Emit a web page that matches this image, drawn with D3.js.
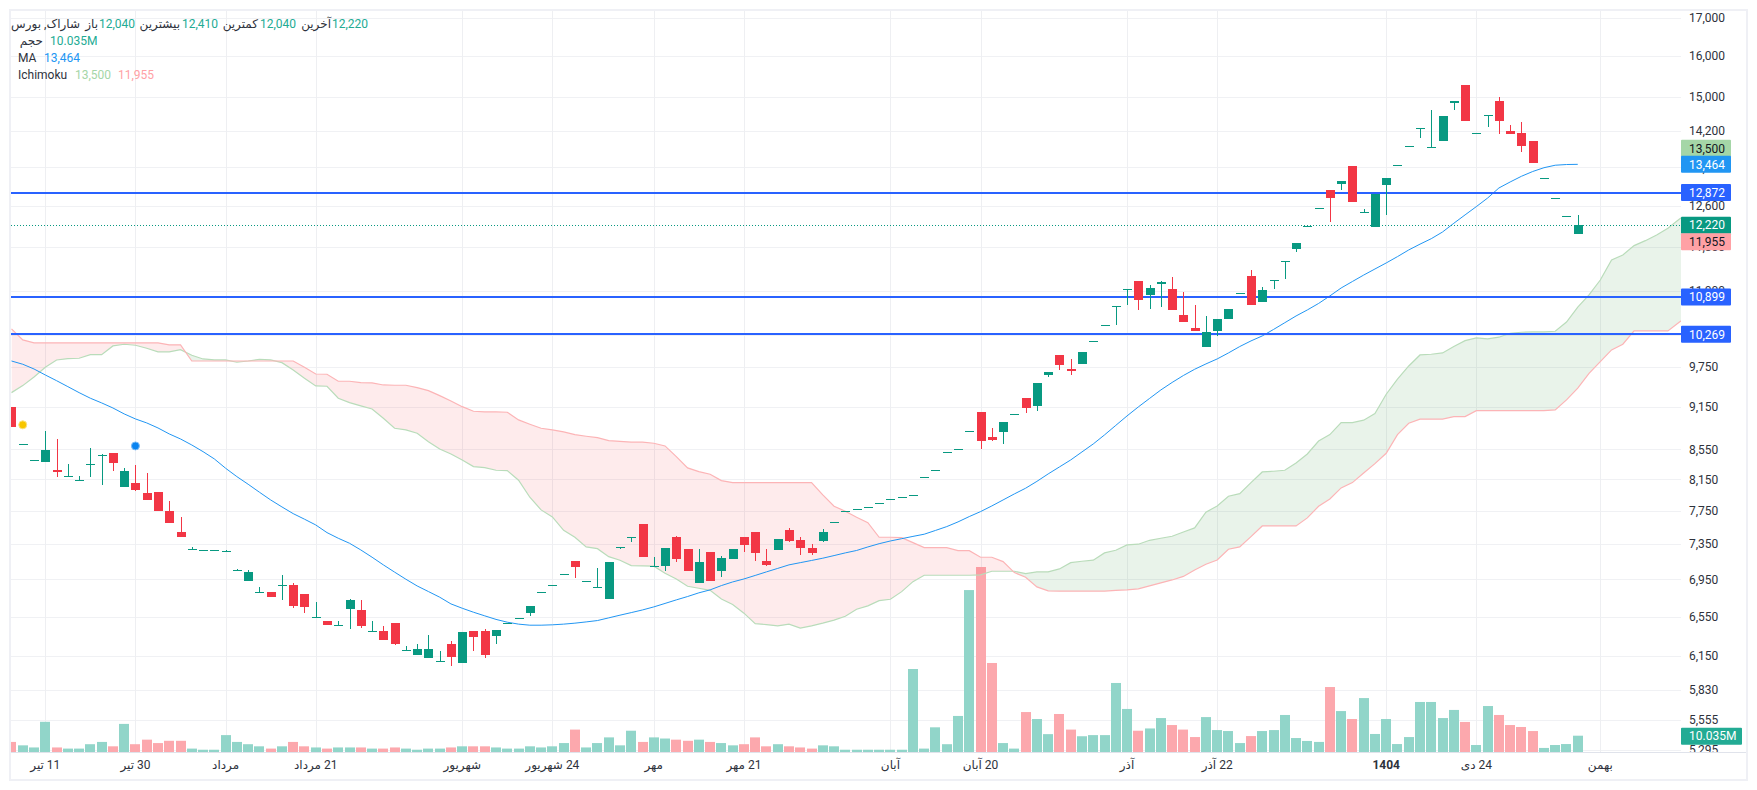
<!DOCTYPE html>
<html>
<head>
<meta charset="utf-8">
<script src="https://cdn.jsdelivr.net/npm/d3@7"></script>
<style>
  html, body { margin: 0; padding: 0; background: #fff; }
  svg { display: block; }
  text { font-family: Roboto, "DejaVu Sans", sans-serif; font-size: 12px; }
</style>
</head>
<body>
<svg id="chart" width="1757" height="790"></svg>
<script>
const opens = [
  9150,8620,8400,8380,8270,8200,8140,8350,8470,8500,
  8050,8100,7980,7990,7750,7500,7290,7280,7280,7270,
  7050,6930,6810,6810,6890,6890,6790,6540,6500,6460,
  6630,6620,6400,6400,6480,6210,6160,6130,6100,6270,
  6080,6400,6400,6350,6480,6530,6590,6810,6890,7010,
  7160,6930,6870,6740,7320,7430,7590,7100,7100,7440,
  7290,6910,7260,7040,7180,7440,7500,7160,7280,7520,
  7400,7310,7390,7620,7750,7770,7800,7850,7900,7920,
  7950,8180,8270,8510,8560,8810,9070,8720,8790,9040,
  9280,9160,9620,9940,9720,9800,10160,10420,10740,11030,
  11180,10930,11130,11040,10590,10370,10070,10320,10520,10970,
  11270,10810,11200,11540,11770,12200,12550,12920,13050,13430,
  12470,12190,13030,13440,13860,14260,13840,13970,14850,15280,
  14150,14560,14890,14200,14150,13970,13170,12770,12400,12040,
];
const highs = [
  9150,8620,8400,8800,8690,8350,8190,8570,8480,8500,
  8300,8340,8230,7990,7870,7680,7320,7280,7280,7280,
  7060,7050,6870,6810,7000,6910,6790,6700,6500,6500,
  6740,6730,6500,6450,6480,6250,6270,6360,6200,6300,
  6390,6400,6420,6410,6480,6530,6660,6810,6890,7010,
  7160,6930,7080,7150,7320,7430,7590,7200,7310,7450,
  7290,7290,7260,7210,7290,7440,7500,7290,7410,7540,
  7440,7350,7530,7620,7750,7770,7800,7850,7900,7920,
  7950,8180,8270,8510,8560,8810,9070,8850,8930,9040,
  9280,9500,9670,9940,9870,9990,10160,10420,10740,11030,
  11180,11110,11180,11250,10990,10760,10570,10520,10690,10970,
  11380,11070,11200,11540,11880,12220,12550,12920,13110,13430,
  12540,12840,13170,13440,13860,14260,14680,14540,14890,15280,
  14150,14560,14990,14340,14400,13970,13170,12770,12400,12410,
];
const lows = [
  8860,8620,8400,8380,8180,8200,8140,8180,8080,8260,
  8050,8000,7890,7750,7600,7440,7290,7280,7280,7270,
  7050,6930,6810,6760,6730,6640,6590,6540,6460,6460,
  6420,6430,6400,6310,6260,6210,6160,6130,6100,6050,
  6080,6200,6130,6270,6480,6530,6560,6810,6890,7010,
  6970,6930,6870,6740,7290,7370,7200,7100,7040,7150,
  7040,6910,6930,6980,7180,7260,7160,7100,7280,7380,
  7230,7230,7370,7620,7750,7770,7800,7850,7900,7920,
  7950,8180,8270,8510,8560,8810,8560,8660,8620,9040,
  9060,9090,9590,9700,9620,9800,10160,10420,10420,10760,
  10680,10690,10730,10680,10470,10320,10070,10240,10520,10970,
  10760,10810,11040,11220,11710,12200,12550,12280,12920,12680,
  12470,12190,12420,13440,13860,14040,13840,13970,14680,14430,
  14150,14290,14130,14130,13730,13490,13170,12770,12400,12040,
];
const closes = [
  8860,8620,8400,8540,8250,8200,8140,8350,8470,8370,
  8260,8010,7890,7750,7600,7440,7290,7280,7280,7270,
  7050,7030,6810,6760,6890,6660,6650,6540,6460,6460,
  6730,6450,6400,6310,6270,6210,6220,6220,6100,6140,
  6390,6340,6160,6410,6480,6530,6660,6810,6890,7010,
  7090,6930,6870,7150,7320,7430,7200,7100,7310,7180,
  7040,7150,6930,7190,7290,7340,7250,7110,7410,7390,
  7310,7250,7500,7620,7750,7770,7800,7850,7900,7920,
  7950,8180,8270,8510,8560,8810,8660,8680,8930,9040,
  9130,9500,9670,9780,9690,9990,10160,10420,10740,11030,
  10850,11060,11160,10680,10470,10320,10310,10520,10690,10970,
  10760,11020,11200,11540,11880,12200,12550,12760,13110,12680,
  12470,12840,13170,13440,13860,14260,13840,14540,14890,14430,
  14150,14560,14430,14130,13860,13490,13170,12770,12400,12220,
];
// millions
const volumes = [
  6.2,4.1,2.8,18.6,2.8,2.1,2.1,4.8,6.2,3.5,
  17.3,4.8,7.6,5.5,6.9,6.9,2.1,1.4,1.4,10.4,
  6.2,4.8,3.5,2.1,3.5,6.2,3.5,2.8,2.1,2.8,
  2.8,2.8,2.1,2.1,2.8,2.1,1.4,2.1,2.1,2.8,
  3.5,3.5,3.5,2.8,2.1,2.1,3.5,2.8,3.5,5.5,
  13.8,2.8,5.5,9,4.1,13.1,6.2,9,8.3,7.6,
  6.9,7.6,6.2,5.5,4.1,4.8,9,3.5,4.8,3.5,
  2.8,2.1,4.1,3.5,1.4,1.4,1.4,1.4,1.4,1.4,
  51.1,2.1,15.2,4.8,22.2,99.7,113.9,54.8,5.5,2.1,
  24.6,20.3,11,23.4,13.8,9.7,10.4,10.4,42.5,26.5,
  13.1,14.5,20.9,16.6,13.8,9.2,21.5,13.5,12.9,5.5,
  9.8,12.9,13.5,22.8,8.6,6.8,6.2,40,25.2,20.3,
  33.2,11.1,20.3,4.9,9.2,30.8,30.8,20.9,25.9,18.5,
  4.3,28.3,22.8,16.6,15.4,12.9,2.5,4.3,4.9,10.035,
];
const maValues = [
  9842,9791,9717,9625,9538,9448,9358,9275,9206,9132,
  9046,8974,8917,8846,8762,8692,8609,8518,8420,8296,
  8186,8087,7985,7887,7800,7717,7649,7579,7487,7420,
  7361,7283,7199,7112,7030,6951,6877,6816,6755,6683,
  6637,6595,6557,6520,6491,6471,6460,6460,6464,6471,
  6481,6494,6508,6536,6564,6591,6619,6651,6688,6726,
  6762,6802,6834,6881,6921,6954,6993,7033,7072,7112,
  7137,7162,7188,7218,7249,7277,7318,7356,7388,7415,
  7442,7468,7513,7559,7616,7681,7742,7812,7887,7963,
  8036,8124,8221,8313,8406,8514,8623,8748,8882,9017,
  9147,9272,9398,9511,9617,9713,9796,9874,9969,10071,
  10162,10243,10349,10461,10574,10676,10787,10917,11056,11171,
  11286,11396,11506,11623,11747,11856,11960,12088,12257,12422,
  12587,12760,12966,13091,13210,13311,13392,13445,13460,13464,
];
const spanA = [
  9358,9463,9595,9744,9858,9879,9885,9942,9942,10081,
  10108,10092,10044,9985,9985,10022,9933,9874,9858,9858,
  9822,9842,9869,9858,9816,9702,9575,9458,9454,9275,
  9210,9162,9118,8984,8842,8818,8772,8655,8555,8487,
  8406,8317,8304,8269,8264,8139,7921,7763,7677,7515,
  7432,7318,7298,7206,7165,7103,7100,7097,7018,6954,
  6874,6852,6829,6735,6676,6585,6476,6466,6453,6471,
  6430,6453,6481,6512,6553,6626,6662,6718,6733,6815,
  6924,6995,6995,6995,6995,6995,6999,7040,7040,7040,
  7013,7033,7033,7066,7137,7153,7165,7249,7280,7342,
  7350,7396,7420,7444,7495,7543,7735,7812,7934,7967,
  8108,8247,8256,8269,8366,8487,8664,8752,8921,8921,
  8956,9050,9334,9560,9764,9937,9948,9969,10073,10167,
  10211,10194,10222,10287,10303,10308,10308,10320,10473,10724,
  10934,11198,11561,11654,11829,11922,12031,12161,12335,12490,
];
const spanB = [
  10358,10178,10130,10130,10130,10130,10130,10130,10130,10130,
  10130,10130,10130,10130,10098,10098,9842,9842,9842,9842,
  9842,9842,9842,9842,9842,9842,9744,9640,9636,9529,
  9529,9508,9504,9473,9469,9469,9433,9388,9314,9235,
  9151,9084,9074,9074,9070,8960,8899,8842,8818,8790,
  8752,8730,8710,8668,8660,8647,8647,8633,8596,8450,
  8300,8251,8217,8134,8108,8108,8108,8108,8108,8108,
  8108,8108,7950,7808,7747,7673,7607,7432,7432,7427,
  7368,7310,7310,7310,7275,7275,7199,7199,7149,7025,
  6973,6867,6823,6820,6820,6820,6820,6820,6829,6834,
  6845,6877,6910,6943,6982,7055,7119,7168,7291,7318,
  7439,7567,7567,7567,7567,7665,7808,7900,8040,8108,
  8234,8357,8496,8752,8913,8970,8970,8970,9007,9007,
  9093,9093,9093,9093,9093,9093,9093,9103,9250,9424,
  9651,9831,10017,10108,10325,10325,10325,10325,10468,10600,
];
const priceTicks = [17000,16000,15000,14200,13400,12600,11800,11000,10250,9750,9150,8550,8150,7750,7350,6950,6550,6150,5830,5555,5295];
const timeIndex = [3,11,19,27,40,48,57,65,78,86,99,107,122,130,141];
const timeLabels = ["11 تیر","30 تیر","مرداد","21 مرداد","شهریور","24 شهریور","مهر","21 مهر","آبان","20 آبان","آذر","22 آذر","1404","24 دی","بهمن"];
const levels = [12872,10899,10269];
const lastPrice = 12220;
const dots = [
  { index: 1, price: 8890, color: "#f7c600", halo: "#fbe27f" },
  { index: 11, price: 8596, color: "#0a84f0", halo: "#7cbcf7" },
];

const GREEN = "#089981";
const RED = "#f23645";
const left = 11, right = 1681, bottom = 752, frameRight = 1747, frameBottom = 780;

const svg = d3.select("#chart");
const x = d3.scaleLinear().domain([3, 141]).range([45.3, 1600.3]);
const y = d3.scaleLog().domain([17000, 5295]).range([18, 750]);
const yVol = d3.scaleLinear().domain([0, 113.9]).range([bottom, 567]);
const fmt = d3.format(",");
const px = (i) => Math.round(x(i));
const crisp = (v) => Math.round(v) + 0.5;

svg.append("clipPath").attr("id", "plot")
  .append("rect").attr("x", left).attr("y", 11).attr("width", right - left).attr("height", bottom - 11);

// grid
const grid = svg.append("g").attr("stroke-width", 1);
grid.selectAll("line.h").data(priceTicks).join("line").attr("class", "h")
  .attr("x1", left).attr("x2", right)
  .attr("y1", (d) => crisp(y(d))).attr("y2", (d) => crisp(y(d)))
  .attr("stroke", "#f0f1f4");
grid.selectAll("line.v").data(timeIndex).join("line").attr("class", "v")
  .attr("x1", (d) => px(d) + 0.5).attr("x2", (d) => px(d) + 0.5)
  .attr("y1", 11).attr("y2", bottom)
  .attr("stroke", "#eeeff2");

const plot = svg.append("g").attr("clip-path", "url(#plot)");

// volume
const volBars = volumes.map((v, i) => ({ v, i, up: closes[i] >= opens[i] }));
plot.append("g").selectAll("rect").data(volBars).join("rect")
  .attr("x", (d) => px(d.i) - 5).attr("width", 10)
  .attr("y", (d) => yVol(d.v)).attr("height", (d) => bottom - yVol(d.v))
  .attr("fill", (d) => (d.up ? "#91d5c9" : "#fca8ad"));

// ichimoku cloud, one fill colour on each side of span A
const cloud = spanA.map((a, i) => ({ i, a, b: spanB[i] }));
const clipAbove = d3.area().x((d) => x(d.i)).y0(0).y1((d) => y(d.a));
const clipBelow = d3.area().x((d) => x(d.i)).y0(790).y1((d) => y(d.a));
svg.append("clipPath").attr("id", "aboveA").append("path").attr("d", clipAbove(cloud));
svg.append("clipPath").attr("id", "belowA").append("path").attr("d", clipBelow(cloud));
const cloudArea = d3.area().x((d) => x(d.i)).y0((d) => y(d.a)).y1((d) => y(d.b));
plot.append("g").attr("clip-path", "url(#aboveA)").append("path")
  .attr("d", cloudArea(cloud)).attr("fill", "#f23645").attr("fill-opacity", 0.1);
plot.append("g").attr("clip-path", "url(#belowA)").append("path")
  .attr("d", cloudArea(cloud)).attr("fill", "#4c9f50").attr("fill-opacity", 0.12);

const lineOf = (key) => d3.line().x((d) => x(d.i)).y((d) => y(d[key]));
plot.append("path").attr("d", lineOf("a")(cloud)).attr("fill", "none").attr("stroke", "#b9dcba").attr("stroke-width", 1.2);
plot.append("path").attr("d", lineOf("b")(cloud)).attr("fill", "none").attr("stroke", "#fcb4b6").attr("stroke-width", 1.2);

// moving average
const maLine = d3.line().x((d, i) => x(i)).y((d) => y(d));
plot.append("path").attr("d", maLine(maValues)).attr("fill", "none").attr("stroke", "#2196f3").attr("stroke-width", 1);

// horizontal levels
plot.append("line").attr("x1", left).attr("x2", right)
  .attr("y1", crisp(y(lastPrice))).attr("y2", crisp(y(lastPrice)))
  .attr("stroke", GREEN).attr("stroke-dasharray", "1 2");
plot.selectAll("line.level").data(levels).join("line").attr("class", "level")
  .attr("x1", left).attr("x2", right)
  .attr("y1", (d) => Math.round(y(d))).attr("y2", (d) => Math.round(y(d)))
  .attr("stroke", "#2962ff").attr("stroke-width", 2);

// candles
const candles = opens.map((o, i) => ({ i, o, h: highs[i], l: lows[i], c: closes[i] }));
const candle = plot.append("g").selectAll("g").data(candles).join("g")
  .attr("fill", (d) => (d.c >= d.o ? GREEN : RED))
  .attr("stroke", "none");
candle.append("rect")
  .attr("x", (d) => px(d.i)).attr("width", 1)
  .attr("y", (d) => Math.round(y(d.h))).attr("height", (d) => Math.round(y(d.l)) - Math.round(y(d.h)));
candle.append("rect")
  .attr("x", (d) => px(d.i) - 4).attr("width", 9)
  .attr("y", (d) => Math.round(y(Math.max(d.o, d.c))))
  .attr("height", (d) => Math.max(1, Math.round(y(Math.min(d.o, d.c))) - Math.round(y(Math.max(d.o, d.c)))));

plot.selectAll("circle").data(dots).join("circle")
  .attr("cx", (d) => x(d.index)).attr("cy", (d) => y(d.price)).attr("r", 4)
  .attr("fill", (d) => d.color).attr("stroke", (d) => d.halo).attr("stroke-width", 1);

// price axis
svg.append("g").selectAll("text").data(priceTicks).join("text")
  .attr("x", 1689).attr("y", (d) => y(d)).attr("dy", "0.35em")
  .attr("fill", "#2e323c")
  .text(fmt);

// cover for the axis tail below the time line
svg.append("rect").attr("x", left).attr("y", bottom).attr("width", frameRight - left).attr("height", frameBottom - bottom).attr("fill", "#fff");

// price labels; the two ichimoku ones are pushed clear of their neighbours
const priceLabels = [
  { text: "13,500", center: 148.3, fill: "#a5d6a7", color: "#131722" },
  { text: "13,464", center: y(13464), fill: "#2196f3", color: "#fff" },
  { text: "12,872", center: y(12872), fill: "#2962ff", color: "#fff" },
  { text: "12,220", center: y(12220), fill: "#089981", color: "#fff" },
  { text: "11,955", center: 241.7, fill: "#ffa1a5", color: "#131722" },
  { text: "10,899", center: y(10899), fill: "#2962ff", color: "#fff" },
  { text: "10,269", center: y(10269), fill: "#2962ff", color: "#fff" },
];
const labelGroup = svg.append("g").selectAll("g").data(priceLabels).join("g");
labelGroup.append("rect")
  .attr("x", right).attr("width", 50).attr("height", 17)
  .attr("y", (d) => d.center - 8.5).attr("rx", 1)
  .attr("fill", (d) => d.fill);
labelGroup.append("text")
  .attr("x", 1689).attr("y", (d) => d.center).attr("dy", "0.35em")
  .attr("fill", (d) => d.color)
  .text((d) => d.text);
svg.append("rect").attr("x", right).attr("y", yVol(10.035) - 8).attr("width", 61).attr("height", 17).attr("rx", 1).attr("fill", "#22ab94");
svg.append("text").attr("x", 1689).attr("y", yVol(10.035) + 0.5).attr("dy", "0.35em").attr("fill", "#fff").text("10.035M");

// time axis
svg.append("line").attr("x1", left).attr("x2", frameRight).attr("y1", bottom + 0.5).attr("y2", bottom + 0.5).attr("stroke", "#e0e3eb");
svg.append("g").selectAll("text").data(timeIndex).join("text")
  .attr("x", (d) => x(d)).attr("y", 765).attr("dy", "0.35em")
  .attr("text-anchor", "middle").attr("direction", "rtl")
  .attr("fill", "#2e323c")
  .attr("font-weight", (d, i) => (timeLabels[i] === "1404" ? 700 : 400))
  .text((d, i) => timeLabels[i]);

// frame
svg.append("rect").attr("x", 10).attr("y", 10).attr("width", frameRight - 10).attr("height", frameBottom - 10)
  .attr("fill", "none").attr("stroke", "#eff0f5").attr("stroke-width", 2);

// legend: persian captions are anchored on their right edge
const legendTeal = "#22ab94";
const legendItems = [
  { x: 80, row: 0, text: "شاراک, بورس", color: "#2e323c", anchor: "end" },
  { x: 98, row: 0, text: "باز", color: "#2e323c", anchor: "end" },
  { x: 99, row: 0, text: "12,040", color: legendTeal },
  { x: 180, row: 0, text: "بیشترین", color: "#2e323c", anchor: "end" },
  { x: 182, row: 0, text: "12,410", color: legendTeal },
  { x: 258, row: 0, text: "کمترین", color: "#2e323c", anchor: "end" },
  { x: 260, row: 0, text: "12,040", color: legendTeal },
  { x: 331, row: 0, text: "آخرین", color: "#2e323c", anchor: "end" },
  { x: 332, row: 0, text: "12,220", color: legendTeal },
  { x: 43, row: 1, text: "حجم", color: "#2e323c", anchor: "end" },
  { x: 50, row: 1, text: "10.035M", color: legendTeal },
  { x: 18, row: 2, text: "MA", color: "#2e323c" },
  { x: 44, row: 2, text: "13,464", color: "#2196f3" },
  { x: 18, row: 3, text: "Ichimoku", color: "#2e323c" },
  { x: 75, row: 3, text: "13,500", color: "#a5d6a7" },
  { x: 118, row: 3, text: "11,955", color: "#ffa1a5" },
];
svg.append("g").selectAll("text").data(legendItems).join("text")
  .attr("x", (d) => d.x).attr("y", (d) => 24 + d.row * 17).attr("dy", "0.35em")
  .attr("text-anchor", (d) => d.anchor || "start")
  .attr("fill", (d) => d.color)
  .text((d) => d.text);
</script>
</body>
</html>
